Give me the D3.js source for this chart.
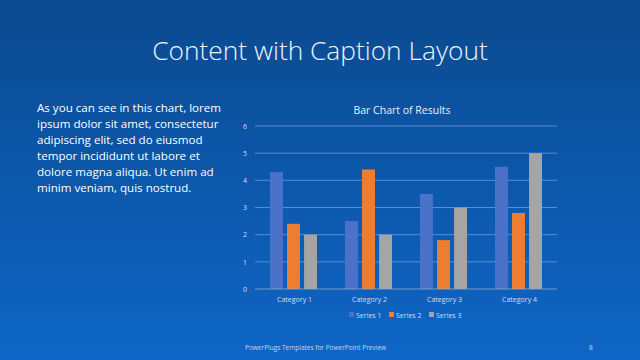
<!DOCTYPE html>
<html><head><meta charset="utf-8">
<script src="https://cdn.jsdelivr.net/npm/d3@7"></script>
<style>html,body{margin:0;padding:0;overflow:hidden;background:#0b4a8f;}</style>
</head><body>
<script>
const categories = ["Category 1", "Category 2", "Category 3", "Category 4"];
const seriesNames = ["Series 1", "Series 2", "Series 3"];
const series1 = [4.3, 2.5, 3.5, 4.5];
const series2 = [2.4, 4.4, 1.8, 2.8];
const series3 = [2, 2, 3, 5];
const yTicks = [0, 1, 2, 3, 4, 5, 6];
const seriesColors = ["#4a72c9", "#ed7d31", "#a5a5a5"];
const slideTitle = "Content with Caption Layout";
const chartTitle = "Bar Chart of Results";
const captionLines = ["As you can see in this chart, lorem", "ipsum dolor sit amet, consectetur", "adipiscing elit, sed do eiusmod", "tempor incididunt ut labore et", "dolore magna aliqua. Ut enim ad", "minim veniam, quis nostrud."];
const footer = "PowerPlugs Templates for PowerPoint  Preview";
const pageNum = "8";

const allSeries = [series1, series2, series3];
const W = 640, H = 360;
const svg = d3.select("body").append("svg").attr("width", W).attr("height", H);
const defs = svg.append("defs");
const grad = defs.append("linearGradient").attr("id", "bg").attr("x1", 0).attr("y1", 0).attr("x2", 0).attr("y2", 1);
grad.append("stop").attr("offset", "0%").attr("stop-color", "#0b4a8f");
grad.append("stop").attr("offset", "45%").attr("stop-color", "#0c56a8");
grad.append("stop").attr("offset", "100%").attr("stop-color", "#0e66c6");
svg.append("rect").attr("width", W).attr("height", H).attr("fill", "url(#bg)");

svg.append("text").attr("x", 320).attr("y", 60).attr("text-anchor", "middle")
  .attr("font-family", "Open Sans").attr("font-weight", 300).attr("font-size", 26.3)
  .attr("fill", "#eef3fb").text(slideTitle);

svg.append("g").selectAll("text").data(captionLines).join("text")
  .attr("x", 37).attr("y", (d, i) => 112 + i * 16)
  .attr("font-family", "Open Sans").attr("font-size", 11.6).attr("fill", "#ffffff").text(d => d);

const x0 = d3.scaleBand().domain(categories).range([257, 557]).paddingInner(0).paddingOuter(0);
const x1 = d3.scaleBand().domain(seriesNames).range([0, 47]).paddingInner(0.24);
const y = d3.scaleLinear().domain([0, 6]).range([289, 126]);

const grid = svg.append("g");
grid.selectAll("line").data(yTicks.filter(t => t > 0)).join("line")
  .attr("x1", 255).attr("x2", 557).attr("y1", d => y(d)).attr("y2", d => y(d))
  .attr("stroke", "#6f9bd6").attr("stroke-width", 0.8);

const yAxis = d3.axisLeft(y).tickValues(yTicks).tickFormat(d3.format("d")).tickSize(0).tickPadding(8);
const ya = svg.append("g").attr("transform", "translate(255,0)").call(yAxis);
ya.select(".domain").remove();
ya.selectAll("text").attr("font-family", "Open Sans").attr("font-size", 7).attr("fill", "#d4deee");

const groups = svg.append("g").selectAll("g").data(categories).join("g")
  .attr("transform", d => `translate(${x0(d) + (x0.bandwidth() - 47) / 2 - 1},0)`);
groups.selectAll("rect").data((c, ci) => seriesNames.map((s, si) => ({ s, v: allSeries[si][ci], si })))
  .join("rect")
  .attr("x", d => x1(d.s)).attr("width", x1.bandwidth())
  .attr("y", d => y(d.v)).attr("height", d => y(0) - y(d.v))
  .attr("fill", d => seriesColors[d.si]);

const xAxis = d3.axisBottom(x0).tickSize(0).tickPadding(8);
const xa = svg.append("g").attr("transform", `translate(0,${y(0)})`).call(xAxis);
xa.select(".domain").attr("d", "M-2,0H300").attr("stroke", "#8fa9cf").attr("stroke-width", 0.8)
  .attr("transform", "translate(257,0)");
xa.selectAll("text").attr("font-family", "Open Sans").attr("font-size", 7).attr("fill", "#d4deee");

svg.append("text").attr("x", 402).attr("y", 114).attr("text-anchor", "middle")
  .attr("font-family", "Open Sans").attr("font-size", 10.5).attr("fill", "#e8eef8").text(chartTitle);

const legX = [349, 389, 429];
const leg = svg.append("g").selectAll("g").data(seriesNames).join("g")
  .attr("transform", (d, i) => `translate(${legX[i]},315)`);
leg.append("rect").attr("x", 0).attr("y", -3).attr("width", 5).attr("height", 5).attr("fill", (d, i) => seriesColors[i]);
leg.append("text").attr("x", 7).attr("y", 2.5).attr("font-family", "Open Sans").attr("font-size", 7)
  .attr("fill", "#d4deee").text(d => d);

svg.append("text").attr("x", 245).attr("y", 350).attr("font-family", "Open Sans").attr("font-size", 6.5)
  .attr("fill", "#c6d6ee").text(footer);
svg.append("text").attr("x", 589).attr("y", 350).attr("font-family", "Open Sans").attr("font-size", 6.5)
  .attr("fill", "#c6d6ee").text(pageNum);
</script>
</body></html>
